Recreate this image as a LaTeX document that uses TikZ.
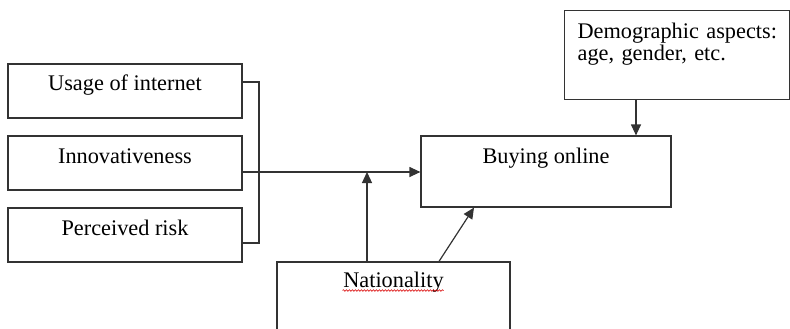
\documentclass[tikz,border=0pt]{standalone}
\usepackage{fontspec}
\setmainfont{Liberation Serif}
\usetikzlibrary{arrows.meta, positioning, decorations.pathmorphing}
\definecolor{edge}{HTML}{333333}

\begin{document}
\begin{tikzpicture}[x=1pt, y=-1pt, >={Triangle[length=11pt, width=10pt]},
  font=\fontsize{22.3}{22}\selectfont, line width=1.2pt,
  box/.style={draw=edge, rectangle, inner xsep=0pt, inner ysep=0pt, anchor=base},
  factor/.style={box, minimum width=234pt, text height=27pt, text depth=27pt},
  spell/.style={red!85!black, line width=0.6pt, decorate,
    decoration={snake, amplitude=0.8pt, segment length=3pt}}]
  \path[use as bounding box, clip] (0,0) rectangle (790,329);

  % Factors
  \node[factor] (usage) at (125,91) {Usage of internet};
  \node[factor] (innov) at (125,163) {Innovativeness};
  \node[factor] (risk) at (125,235) {Perceived risk};

  % Outcome and moderators
  \node[box, minimum width=250pt, text height=27pt, text depth=44pt] (buy) at (546,163) {Buying online};
  \node[box, anchor=north west, text width=199pt, inner xsep=13pt, align=left,
    text height=28pt, text depth=61pt] (demo) at (564,10) {\mbox{Demographic aspects:}\\\mbox{age, gender, etc.}};
  \node[box, minimum width=233pt, text height=25pt, text depth=70pt] (nat) at (393.5,287) {Nationality};
  \draw[spell] ([xshift=-51pt, yshift=-3.5pt]nat.base) -- ([xshift=50pt, yshift=-3.5pt]nat.base);

  % Connectors
  \coordinate (jtop) at (259,82);
  \coordinate (jmid) at (259,172);
  \coordinate (jbot) at (259,243);
  \coordinate (jnat) at (367,172);
  \coordinate (dcol) at (636,0);
  \coordinate (dtip) at (474,0);
  \draw[edge] (usage.east |- jtop) -- (jtop) -- (jbot) -- (risk.east |- jbot);
  \draw[edge, ->] (innov.east |- jmid) -- (buy.west |- jmid);
  \draw[edge, ->] (nat.north -| jnat) -- (jnat);
  \draw[edge, ->] ([xshift=45.5pt]nat.north) -- (buy.south -| dtip);
  \draw[edge, ->] (demo.south -| dcol) -- (buy.north -| dcol);
\end{tikzpicture}
\end{document}
